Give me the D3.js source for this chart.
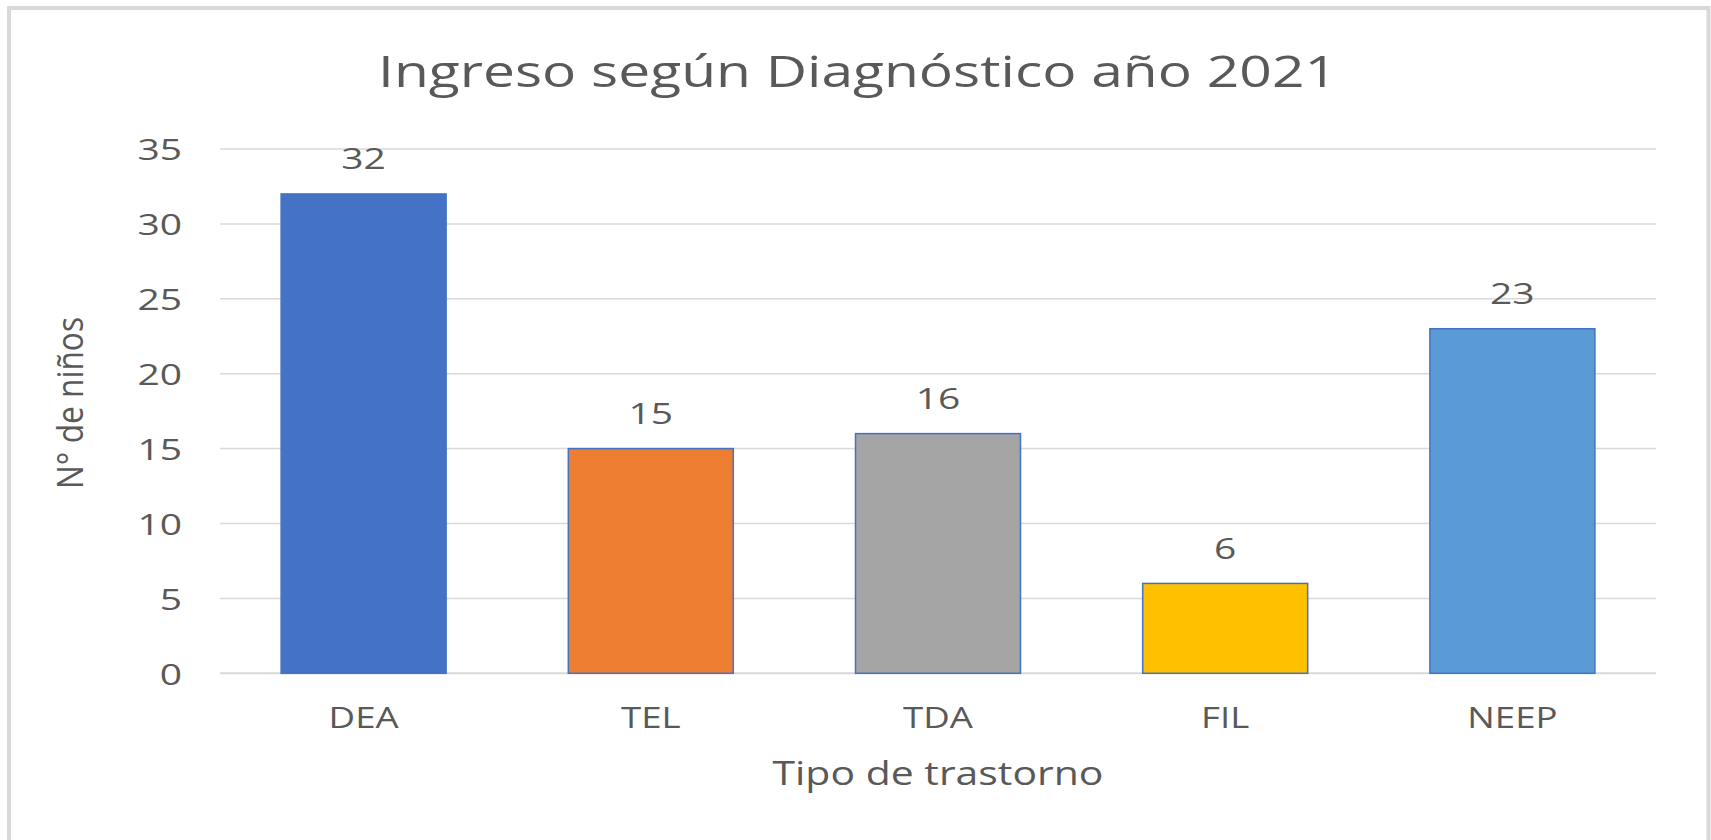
<!DOCTYPE html>
<html>
<head>
<meta charset="utf-8">
<script src="https://cdn.jsdelivr.net/npm/d3@7"></script>
<style>
  html, body { margin: 0; padding: 0; background: #ffffff; }
  svg { display: block; }
  text { font-family: "Open Sans", "Noto Sans", sans-serif; fill: #595959; }
</style>
</head>
<body>
<script>
// ---- data ----
const categories = ["DEA", "TEL", "TDA", "FIL", "NEEP"];
const values = [32, 15, 16, 6, 23];
const yTicks = [0, 5, 10, 15, 20, 25, 30, 35];
const titleText = "Ingreso según Diagnóstico año 2021";
const xTitleText = "Tipo de trastorno";
const yTitleText = "N° de niños";

// ---- style ----
const barColors = ["#4472C4", "#ED7D31", "#A5A5A5", "#FFC000", "#5B9BD5"];
const W = 1711, H = 840;
const plot = { left: 220, right: 1656, top: 149, bottom: 673.3 };

const svg = d3.select("body").append("svg").attr("width", W).attr("height", H);

// frame
svg.append("rect")
  .attr("x", 9).attr("y", 8).attr("width", 1699.5).attr("height", 900)
  .attr("fill", "#ffffff").attr("stroke", "#d9d9d9").attr("stroke-width", 4);

const x = d3.scaleBand().domain(categories).range([plot.left, plot.right])
  .paddingInner(0.4255).paddingOuter(0.2128);
const y = d3.scaleLinear().domain([0, 35]).range([plot.bottom, plot.top]);

function stretchText(sel, k) {
  sel.each(function () {
    const len = this.getComputedTextLength();
    d3.select(this).attr("textLength", len * k).attr("lengthAdjust", "spacingAndGlyphs");
  });
}

// y axis with gridlines
const yAxis = d3.axisLeft(y).tickValues(yTicks).tickSize(0).tickPadding(38);
const gy = svg.append("g").attr("transform", `translate(${plot.left},0)`).call(yAxis);
gy.select(".domain").remove();
gy.selectAll(".tick line").remove();
gy.selectAll(".tick text")
  .attr("font-size", 30).attr("fill", "#595959")
  .attr("font-family", "'Open Sans', sans-serif")
  .attr("dy", "0.36em");
stretchText(gy.selectAll(".tick text"), 1.3);

svg.append("g").selectAll("line").data(yTicks).join("line")
  .attr("x1", plot.left).attr("x2", plot.right)
  .attr("y1", d => y(d)).attr("y2", d => y(d))
  .attr("stroke", "#d9d9d9").attr("stroke-width", d => d === 0 ? 2 : 1.5);

// bars
svg.append("g").selectAll("rect").data(values).join("rect")
  .attr("x", (d, i) => x(categories[i]))
  .attr("y", d => y(d))
  .attr("width", x.bandwidth())
  .attr("height", d => y(0) - y(d))
  .attr("fill", (d, i) => barColors[i])
  .attr("stroke", "#4472C4").attr("stroke-width", 1.5);

// data labels
const dl = svg.append("g").selectAll("text").data(values).join("text")
  .attr("x", (d, i) => x(categories[i]) + x.bandwidth() / 2)
  .attr("y", d => y(d) - 24.5)
  .attr("text-anchor", "middle")
  .attr("font-size", 29.5)
  .text(d => d);
stretchText(dl, 1.32);

// x axis labels
const xAxis = d3.axisBottom(x).tickSize(0).tickPadding(0);
const gx = svg.append("g").attr("transform", `translate(0,${plot.bottom})`).call(xAxis);
gx.select(".domain").remove();
gx.selectAll(".tick text")
  .attr("font-size", 30).attr("fill", "#595959")
  .attr("font-family", "'Open Sans', sans-serif")
  .attr("y", 728.3 - plot.bottom).attr("dy", 0);
stretchText(gx.selectAll(".tick text"), 1.22);

// titles
svg.append("text")
  .attr("x", 857.5).attr("y", 87)
  .attr("text-anchor", "middle")
  .attr("font-size", 44.4)
  .attr("textLength", 959).attr("lengthAdjust", "spacingAndGlyphs")
  .text(titleText);

svg.append("text")
  .attr("x", (plot.left + plot.right) / 2).attr("y", 785)
  .attr("text-anchor", "middle")
  .attr("font-size", 32.6)
  .attr("textLength", 331).attr("lengthAdjust", "spacingAndGlyphs")
  .text(xTitleText);

svg.append("text")
  .attr("transform", "translate(83,403) rotate(-90)")
  .attr("text-anchor", "middle")
  .attr("font-size", 36)
  .attr("textLength", 172).attr("lengthAdjust", "spacingAndGlyphs")
  .text(yTitleText);
</script>
</body>
</html>
